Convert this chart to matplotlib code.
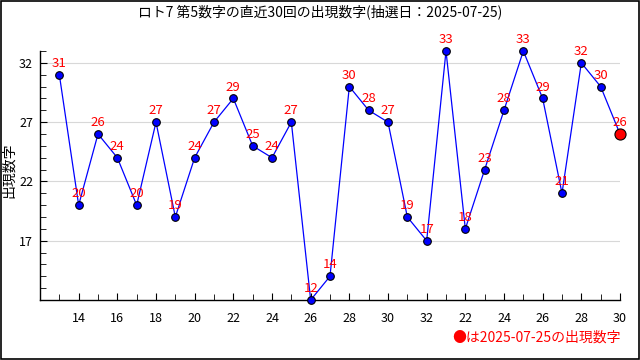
import numpy as np
import matplotlib
matplotlib.use('Agg')
import matplotlib.pyplot as plt
from matplotlib.ticker import MultipleLocator, FixedLocator

plt.rcParams['font.family'] = ['Noto Sans CJK JP', 'DejaVu Sans']

draw_idx = list(range(13, 43))
values = [31, 20, 26, 24, 20, 27, 19, 24, 27, 29,
          25, 24, 27, 12, 14, 30, 28, 27, 19, 17,
          33, 18, 23, 28, 33, 29, 21, 32, 30, 26]
xtick_pos = list(range(14, 43, 2))
xtick_labels = ['14', '16', '18', '20', '22', '24', '26', '28', '30', '32',
                '22', '24', '26', '28', '30']
yticks = [17, 22, 27, 32]
title = 'ロト7 第5数字の直近30回の出現数字(抽選日：2025-07-25)'
note = '●は2025-07-25の出現数字'


def main() -> None:
    fig = plt.figure(figsize=(6.4, 3.6), dpi=100)
    ax = fig.add_axes([40/640, 60/360, 580/640, 249/360])

    ax.plot(draw_idx, values, color='blue', lw=0.9, zorder=2, clip_on=False)
    ax.plot(draw_idx[:-1], values[:-1], 'o', color='blue', mec='black',
            mew=0.8, ms=5.5, zorder=3, clip_on=False)
    ax.plot(draw_idx[-1], values[-1], 'o', color='red', mec='black',
            mew=0.8, ms=8, zorder=4, clip_on=False)

    for x, v in zip(draw_idx, values):
        ax.annotate(str(v), (x, v), xytext=(0, 3.5), textcoords='offset points',
                    ha='center', va='bottom', color='red', fontsize=9.5,
                    zorder=5, annotation_clip=False)

    ax.set_xlim(12, 42)
    ax.set_ylim(12, 33)
    ax.xaxis.set_major_locator(FixedLocator(xtick_pos))
    ax.set_xticklabels(xtick_labels)
    ax.xaxis.set_minor_locator(MultipleLocator(1))
    ax.yaxis.set_major_locator(FixedLocator(yticks))
    ax.yaxis.set_minor_locator(MultipleLocator(1))
    ax.tick_params(which='both', direction='in', labelsize=9, color='black')
    ax.tick_params(which='major', length=5)
    ax.tick_params(which='minor', length=4)
    ax.tick_params(axis='x', pad=9)
    ax.tick_params(axis='y', pad=5)
    ax.grid(axis='y', which='major', color='#d8d8d8', lw=0.8, zorder=0)
    for s in ['top', 'right']:
        ax.spines[s].set_visible(False)
    for s in ['left', 'bottom']:
        ax.spines[s].set_linewidth(1)

    fig.text(9/640, 1 - 170/360, '出現数字', rotation=90, ha='center',
             va='center', fontsize=10)
    fig.text(0.5, 1 - 12/360, title, ha='center', va='center', fontsize=10)
    fig.text(621/640, 1 - 338/360, note, ha='right', va='center',
             color='red', fontsize=10)

    fig.patches.append(plt.Rectangle((0.0008, 0.0014), 0.9984, 0.9972,
                                     transform=fig.transFigure, fill=False,
                                     edgecolor='black', lw=1.2))

    fig.savefig('out.png', dpi=100)


if __name__ == "__main__":
    main()
